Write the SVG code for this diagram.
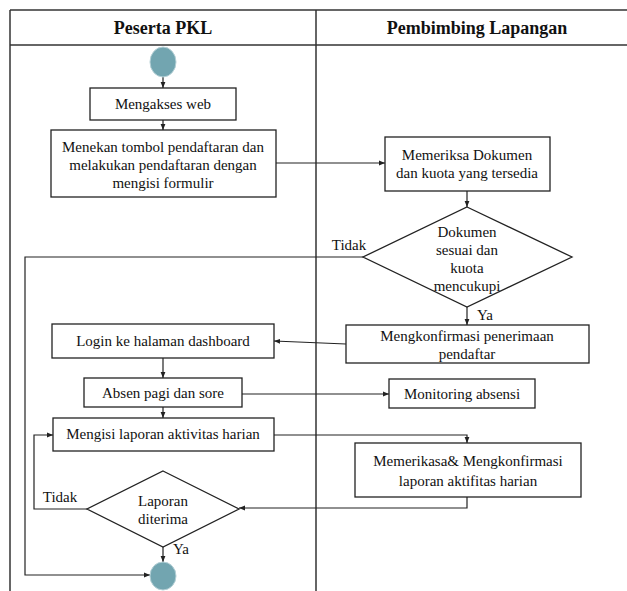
<svg xmlns="http://www.w3.org/2000/svg" width="627" height="591" viewBox="0 0 627 591">
<style>
text{font-family:'Liberation Serif',serif}
.t{font-size:15px;fill:#111;text-anchor:middle}
.h{font-size:18px;font-weight:bold;fill:#111;text-anchor:middle}
.b{fill:#fff;stroke:#222;stroke-width:1.3}
.c{fill:none;stroke:#222;stroke-width:1.2}
.s{fill:#72a5b0;stroke:#b5d0d6;stroke-width:1}
.g{fill:none;stroke:#333;stroke-width:1.5}
</style>
<defs>
<marker id="a" viewBox="0 0 10 10" refX="10" refY="5" markerWidth="6" markerHeight="6" orient="auto-start-reverse" markerUnits="userSpaceOnUse">
<path d="M0,1 L10,5 L0,9 z" fill="#222"/>
</marker>
</defs>
<rect width="627" height="591" fill="#fff"/>
<g id="lanes">
<line class="g" x1="10" y1="10" x2="627" y2="10" stroke="#999"/>
<line class="g" x1="10" y1="45" x2="627" y2="45"/>
<line class="g" x1="10" y1="10" x2="10" y2="591"/>
<line class="g" x1="316" y1="10" x2="316" y2="591"/>
<text class="h" x="163" y="34">Peserta PKL</text>
<text class="h" x="477" y="34">Pembimbing Lapangan</text>
</g>
<g id="connectors">
<line class="c" x1="163" y1="77" x2="163" y2="88" marker-end="url(#a)"/>
<line class="c" x1="163" y1="120" x2="163" y2="130" marker-end="url(#a)"/>
<line class="c" x1="276" y1="163" x2="385" y2="163" marker-end="url(#a)"/>
<line class="c" x1="467" y1="191" x2="467" y2="207" marker-end="url(#a)"/>
<polyline class="c" points="363,257 25,257 25,575 150,575" marker-end="url(#a)"/>
<line class="c" x1="467" y1="307" x2="467" y2="325" marker-end="url(#a)"/>
<line class="c" x1="346" y1="344" x2="274" y2="341" marker-end="url(#a)"/>
<line class="c" x1="163" y1="358" x2="163" y2="378" marker-end="url(#a)"/>
<line class="c" x1="242" y1="394" x2="389" y2="394" marker-end="url(#a)"/>
<line class="c" x1="163" y1="407" x2="163" y2="418" marker-end="url(#a)"/>
<polyline class="c" points="274,435 467,435 467,443" marker-end="url(#a)"/>
<polyline class="c" points="467,497 467,508 239,508" marker-end="url(#a)"/>
<polyline class="c" points="87,509 34,509 34,435 53,435" marker-end="url(#a)"/>
<line class="c" x1="163" y1="547" x2="163" y2="562" marker-end="url(#a)"/>
<text class="t" x="349" y="250">Tidak</text>
<text class="t" x="485" y="320">Ya</text>
<text class="t" x="60" y="502">Tidak</text>
<text class="t" x="181" y="554">Ya</text>
</g>
<g id="start"><ellipse class="s" cx="163" cy="62" rx="13" ry="15"/></g>
<g id="n1"><rect class="b" x="90" y="88" width="146" height="32"/><text class="t" x="163" y="109">Mengakses web</text></g>
<g id="n2"><rect class="b" x="51" y="130" width="225" height="67"/>
<text class="t" x="163" y="152">Menekan tombol pendaftaran dan</text>
<text class="t" x="163" y="170">melakukan pendaftaran dengan</text>
<text class="t" x="163" y="188">mengisi formulir</text></g>
<g id="n3"><rect class="b" x="385" y="137" width="165" height="54"/>
<text class="t" x="467" y="160">Memeriksa Dokumen</text>
<text class="t" x="467" y="178">dan kuota yang tersedia</text></g>
<g id="d1"><polygon class="b" points="467,207 572,257 467,307 363,257"/>
<text class="t" x="467" y="237">Dokumen</text>
<text class="t" x="467" y="255">sesuai dan</text>
<text class="t" x="467" y="273">kuota</text>
<text class="t" x="467" y="291">mencukupi</text></g>
<g id="n4"><rect class="b" x="346" y="325" width="243" height="38"/>
<text class="t" x="467" y="341">Mengkonfirmasi penerimaan</text>
<text class="t" x="467" y="359">pendaftar</text></g>
<g id="n5"><rect class="b" x="52" y="324" width="222" height="34"/><text class="t" x="163" y="346">Login ke halaman dashboard</text></g>
<g id="n6"><rect class="b" x="84" y="378" width="158" height="29"/><text class="t" x="163" y="398">Absen pagi dan sore</text></g>
<g id="n7"><rect class="b" x="389" y="379" width="146" height="29"/><text class="t" x="462" y="399">Monitoring absensi</text></g>
<g id="n8"><rect class="b" x="53" y="418" width="221" height="33"/><text class="t" x="163" y="439">Mengisi laporan aktivitas harian</text></g>
<g id="n9"><rect class="b" x="355" y="443" width="226" height="54"/>
<text class="t" x="468" y="466">Memerikasa&amp; Mengkonfirmasi</text>
<text class="t" x="468" y="486">laporan aktifitas harian</text></g>
<g id="d2"><polygon class="b" points="163,471 239,509 163,547 87,509"/>
<text class="t" x="163" y="506">Laporan</text>
<text class="t" x="163" y="524">diterima</text></g>
<g id="end"><ellipse class="s" cx="163" cy="576" rx="13" ry="14"/></g>
</svg>
